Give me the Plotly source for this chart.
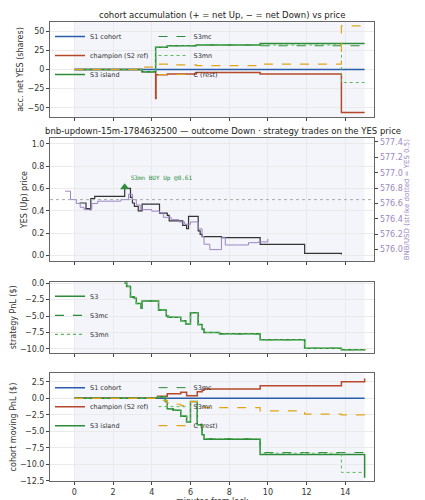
import plotly.graph_objects as go
from plotly.subplots import make_subplots

# panel 1: accumulated net YES shares (step points: minute, value)
acc_t = [0, 3.5, 4.2, 4.22, 4.8, 6.3, 9.6, 13.8, 15]
acc_s1 = [0, 0, 0, 0, 0, 0, 0, 0, 0]
acc_champ = [0, -3, -38, -7, -6, -4, -6, -56, -56]
acc_s3 = [0, -3, 29, 29, 31, 32, 34, 34, 34]
acc_s3mc = [0, -3, 29, 29, 31, 32, 31, 31, 31]
acc_s3mn = [0, -3, 29, 29, 31, 32, 32, -17, -17]
acc_c = [0, 3, 7, 7, 6, 5, 7, 57, 57]

# panel 2: YES price and BNB/USD
yes_t = [0.27, 0.6, 0.8, 0.85, 1.05, 2.6, 2.9, 3.0, 3.1, 3.3, 3.5, 4.4, 4.8, 4.9, 5.6, 5.8, 5.9, 6.4, 6.5, 6.6, 7.6, 9.6, 11.9, 13.8]
yes_p = [0.47, 0.42, 0.41, 0.51, 0.53, 0.60, 0.52, 0.47, 0.44, 0.40, 0.46, 0.38, 0.36, 0.31, 0.27, 0.24, 0.35, 0.22, 0.19, 0.17, 0.16, 0.10, 0.02, 0.01]
bnb_t = [-0.48, -0.2, 0.1, 0.3, 0.5, 0.8, 0.9, 1.2, 2.4, 2.8, 3.0, 3.2, 3.4, 4.0, 4.4, 4.6, 5.0, 5.4, 5.7, 6.0, 6.4, 6.6, 6.7, 7.0, 7.5, 7.6, 7.8, 8.5, 9.0, 9.5, 10.0]
bnb_p = [576.76, 576.65, 576.60, 576.55, 576.52, 576.53, 576.60, 576.63, 576.65, 576.72, 576.65, 576.58, 576.52, 576.50, 576.48, 576.42, 576.39, 576.36, 576.33, 576.36, 576.27, 576.17, 576.07, 576.00, 576.00, 576.16, 576.06, 576.06, 576.09, 576.10, 576.14]
buy_t = [2.6]
buy_p = [0.61]

# panel 3: strategy PnL
pnl_t = [2.6, 2.7, 2.9, 3.1, 3.2, 3.45, 3.5, 4.35, 4.75, 4.85, 5.5, 5.75, 6.0, 6.4, 6.6, 6.7, 7.5, 9.6, 11.9, 13.8, 15]
pnl_s3 = [0, -0.5, -2.1, -2.3, -3.1, -3.8, -2.7, -4.1, -5.0, -5.2, -5.7, -6.2, -4.5, -6.3, -7.0, -7.5, -7.7, -8.6, -9.9, -10.1, -10.2]

# panel 4: cohort moving PnL
mv_t = [0, 4.3, 4.5, 4.7, 4.8, 5.1, 5.5, 5.8, 6.0, 6.35, 6.6, 6.7, 9.6, 11.9, 13.8, 15]
mv_s1 = [0] * 16
mv_champ = [0, 0.3, 0.3, 0.3, 0.7, 0.7, 0.9, 0.4, 0.4, 1.0, 1.2, 1.4, 1.9, 1.9, 2.5, 3.0]
mv_s3 = [0, 0.2, 0.2, -0.5, -1.6, -1.8, -2.7, -3.6, -0.5, -4.0, -5.5, -6.2, -8.5, -8.5, -8.5, -12.0]
mv_s3mc = [0, 0.2, 0.2, -0.5, -1.6, -1.8, -2.7, -3.6, -0.5, -4.0, -5.5, -6.1, -8.2, -8.2, -8.2, -8.2]
mv_s3mn = [0, 0.2, 0.2, -0.5, -1.6, -1.8, -2.7, -3.6, -0.5, -4.0, -5.5, -6.1, -8.3, -8.3, -11.2, -11.2]
mv_c = [0, 0, -0.3, -0.3, -0.7, -0.9, -1.1, -1.1, -0.5, -1.0, -1.2, -1.4, -1.9, -2.4, -2.5, -3.0]

BLUE, RED, GREEN, LGREEN, GOLD, PURPLE = "#2a5caa", "#b5482a", "#2e8b3a", "#5cb85c", "#e0a51a", "#9d86c4"

fig = make_subplots(rows=4, cols=1, shared_xaxes=True,
                    specs=[[{}], [{"secondary_y": True}], [{}], [{}]])

def cohort(t, vals, row, lg):
    s1, ch, s3, mc, mn, c = vals
    a, b = lg
    fig.add_trace(go.Scatter(x=t, y=s1, mode="lines", name="S1 cohort", line=dict(color=BLUE, width=1.5, shape="hv"), legend=a), row=row, col=1)
    fig.add_trace(go.Scatter(x=t, y=ch, mode="lines", name="champion (S2 ref)", line=dict(color=RED, width=1.5, shape="hv"), legend=a), row=row, col=1)
    fig.add_trace(go.Scatter(x=t, y=s3, mode="lines", name="S3 island", line=dict(color=GREEN, width=1.5, shape="hv"), legend=a), row=row, col=1)
    fig.add_trace(go.Scatter(x=t, y=mc, mode="lines", name="S3mc", line=dict(color=GREEN, width=1, dash="dash", shape="hv"), legend=b), row=row, col=1)
    fig.add_trace(go.Scatter(x=t, y=mn, mode="lines", name="S3mn", line=dict(color=LGREEN, width=1, dash="dot", shape="hv"), legend=b), row=row, col=1)
    fig.add_trace(go.Scatter(x=t, y=c, mode="lines", name="C (rest)", line=dict(color=GOLD, width=1.2, dash="dash", shape="hv"), legend=b), row=row, col=1)

cohort(acc_t, [acc_s1, acc_champ, acc_s3, acc_s3mc, acc_s3mn, acc_c], 1, ("legend", "legend2"))

fig.add_trace(go.Scatter(x=bnb_t, y=bnb_p, mode="lines", line=dict(color=PURPLE, width=1, shape="hv"), showlegend=False), row=2, col=1, secondary_y=True)
fig.add_trace(go.Scatter(x=yes_t, y=yes_p, mode="lines", line=dict(color="#333", width=1.2, shape="hv"), showlegend=False), row=2, col=1)
fig.add_trace(go.Scatter(x=buy_t, y=buy_p, mode="markers+text", marker=dict(symbol="triangle-up", size=8, color=GREEN),
                         text=["S3mn BUY Up @0.61"], textposition="top right",
                         textfont=dict(size=6, color=GREEN, family="DejaVu Sans Mono"), showlegend=False), row=2, col=1)

fig.add_trace(go.Scatter(x=pnl_t, y=pnl_s3, mode="lines", name="S3", line=dict(color=GREEN, width=1.5, shape="hv"), legend="legend3"), row=3, col=1)
fig.add_trace(go.Scatter(x=pnl_t, y=pnl_s3, mode="lines", name="S3mc", line=dict(color=GREEN, width=1.2, dash="dash", shape="hv"), legend="legend3"), row=3, col=1)
fig.add_trace(go.Scatter(x=pnl_t, y=pnl_s3, mode="lines", name="S3mn", line=dict(color=LGREEN, width=1.2, dash="dot", shape="hv"), legend="legend3"), row=3, col=1)

cohort(mv_t, [mv_s1, mv_champ, mv_s3, mv_s3mc, mv_s3mn, mv_c], 4, ("legend4", "legend5"))

for r in range(1, 5):
    fig.add_vrect(x0=0, x1=15, fillcolor="#eef1f8", opacity=0.7, line_width=0, layer="below", row=r, col=1)
fig.add_hline(y=0.5, line=dict(color="#aaa", width=1, dash="dot"), row=2, col=1)

ax = dict(showline=True, mirror=True, linecolor="#666", linewidth=1, gridcolor="#eaeaea", automargin=False,
          zeroline=False, tickfont=dict(size=8, color="#333"), ticks="outside", ticklen=3)
for i in range(1, 5):
    fig.update_xaxes(ax, range=[-1.26, 15.5], tickvals=list(range(0, 15, 2)), row=i, col=1)
fig.update_xaxes(title=dict(text="minutes from lock", font=dict(size=8), standoff=2), row=4, col=1)

tf = dict(size=8, color="#333")
fig.update_layout(
    yaxis=dict(ax, domain=[0.793, 1.0], range=[-62, 62], tickvals=[-50, -25, 0, 25, 50], title=dict(text="acc. net YES (shares)", font=tf, standoff=2)),
    yaxis2=dict(ax, domain=[0.479, 0.747], range=[-0.05, 1.05], tickvals=[0, 0.2, 0.4, 0.6, 0.8, 1.0], tickformat=".1f", title=dict(text="YES (Up) price", font=tf, standoff=2)),
    yaxis3=dict(ax, range=[575.85, 577.45], tickvals=[576.0, 576.2, 576.4, 576.6, 576.8, 577.0, 577.2, 577.4], tickformat=".1f",
                showgrid=False, tickfont=dict(size=8, color=PURPLE),
                title=dict(text="BNB/USD (strike dotted = YES 0.5)", font=dict(size=7, color=PURPLE), standoff=2)),
    yaxis4=dict(ax, domain=[0.279, 0.434], range=[-10.6, 0.2], tickvals=[0, -2.5, -5, -7.5, -10], tickformat=".1f", title=dict(text="strategy PnL ($)", font=tf, standoff=2)),
    yaxis5=dict(ax, domain=[0.0, 0.235], range=[-12.5, 3.8], tickvals=[2.5, 0, -2.5, -5, -7.5, -10, -12.5], tickformat=".1f", title=dict(text="cohort moving PnL ($)", font=tf, standoff=2)),
)

leg = dict(font=dict(size=6.5, color="#333"), bgcolor="rgba(255,255,255,0)", tracegroupgap=0, xanchor="left", yanchor="top", itemwidth=30)
fig.update_layout(
    legend=dict(leg, x=0.0, y=1.0),
    legend2=dict(leg, x=0.3, y=1.0),
    legend3=dict(leg, x=0.0, y=0.434),
    legend4=dict(leg, x=0.0, y=0.235),
    legend5=dict(leg, x=0.3, y=0.235),
)

fig.add_annotation(text="cohort accumulation (+ = net Up, − = net Down) vs price", x=0.5, y=1.0, xref="paper", yref="paper",
                   yanchor="bottom", showarrow=False, font=dict(size=8.5, color="#222"))
fig.add_annotation(text="bnb-updown-15m-1784632500 — outcome Down · strategy trades on the YES price", x=0.5, y=0.747, xref="paper", yref="paper",
                   yanchor="bottom", showarrow=False, font=dict(size=8.5, color="#222"))

fig.update_layout(width=425, height=500, margin=dict(l=42, r=38, t=14, b=27),
                  plot_bgcolor="white", paper_bgcolor="white",
                  font=dict(family="DejaVu Sans", size=8, color="#333"))
fig.write_html("out.html")
